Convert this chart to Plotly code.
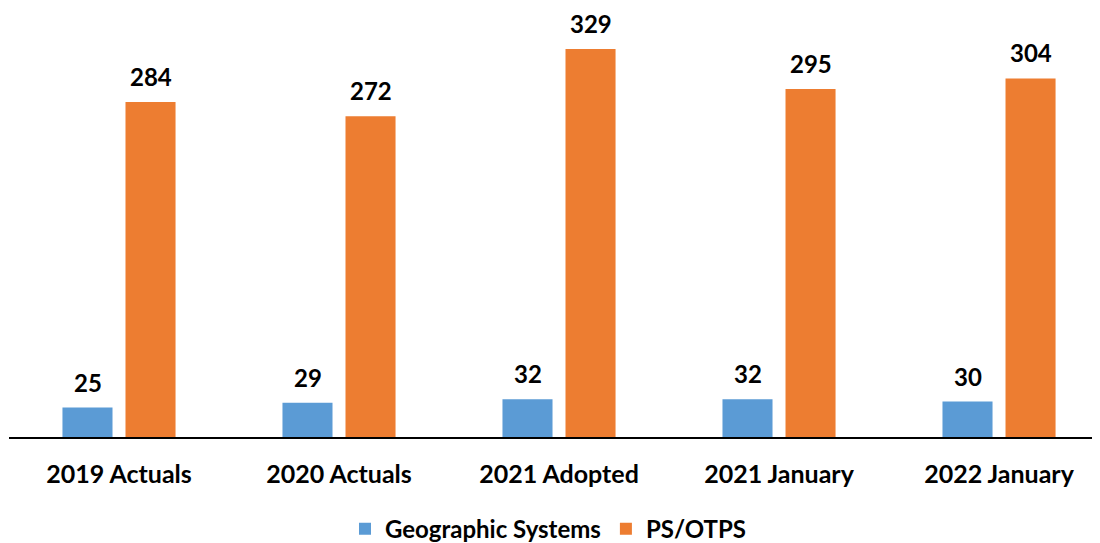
import plotly.graph_objects as go

categories = ["2019 Actuals", "2020 Actuals", "2021 Adopted", "2021 January", "2022 January"]
geo_values = [25, 29, 32, 32, 30]
ps_values = [284, 272, 329, 295, 304]

FONT = "Lato"
LABEL_FONT = dict(family=FONT, size=24, color="black", weight="bold")

fig = go.Figure()
fig.add_trace(go.Bar(
    name="Geographic Systems", x=categories, y=geo_values,
    marker=dict(color="#5B9BD5", line=dict(width=0)),
))
fig.add_trace(go.Bar(
    name="PS/OTPS", x=categories, y=ps_values,
    marker=dict(color="#ED7D31", line=dict(width=0)),
))

# Data labels, placed from the data values above each bar of the group
for values, xshift in ((geo_values, -31.5), (ps_values, 31.5)):
    for cat, v in zip(categories, values):
        fig.add_annotation(
            x=cat, y=v, text=str(v), showarrow=False,
            xanchor="center", yanchor="bottom", xshift=xshift, yshift=9,
            font=LABEL_FONT,
        )

# page body has an 8px margin; figure is sized to fit the 1100x543 window
fig.update_layout(
    width=1092, height=535,
    margin=dict(l=1, r=0, t=2, b=106, autoexpand=False),
    paper_bgcolor="white", plot_bgcolor="white",
    barmode="group", bargap=0.427, bargroupgap=0.206,
    font=dict(family=FONT, color="black"),
    showlegend=True,
    legend=dict(
        orientation="h", x=0.4945, xanchor="center",
        yref="container", y=0.026, yanchor="middle",
        font=dict(family=FONT, size=24, color="black", weight="bold"),
        itemwidth=30, tracegroupgap=0,
    ),
    xaxis=dict(
        range=[-0.5, 4.459],
        showline=True, linecolor="black", linewidth=1.5,
        ticks="", showgrid=False,
        tickfont=dict(family=FONT, size=25, color="black", weight="bold"),
        ticklabelstandoff=14,
    ),
    yaxis=dict(
        range=[0, 362], visible=False, showgrid=False, zeroline=False,
    ),
)

fig.write_html("out.html")
